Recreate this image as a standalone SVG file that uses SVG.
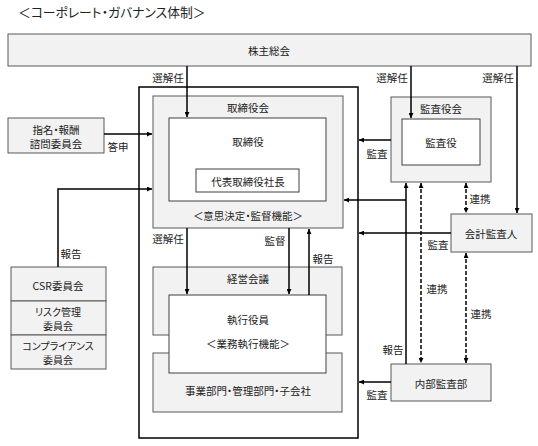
<svg xmlns="http://www.w3.org/2000/svg" width="538" height="446" viewBox="0 0 538 446">
<style>
text{font-family:"Noto Sans CJK JP","Noto Sans",sans-serif;font-size:10.5px;fill:#222;text-anchor:middle;dominant-baseline:central;font-feature-settings:"palt"}
.lab{text-anchor:start}
.sm{font-size:10px}
.g{fill:#f2f2f2;stroke:#595959;stroke-width:1}
.w{fill:#fff;stroke:#404040;stroke-width:1}
.ln{fill:none;stroke:#000;stroke-width:1.5}
.ds{fill:none;stroke:#000;stroke-width:1.5;stroke-dasharray:4 2}
</style>
<defs>
<marker id="ah" viewBox="0 0 8 8" refX="8" refY="4" markerWidth="5" markerHeight="5" orient="auto-start-reverse" markerUnits="userSpaceOnUse"><path d="M0,0L8,4L0,8z" fill="#000"/></marker>
</defs>
<rect width="538" height="446" fill="#fff"/>
<text x="18" y="11" class="lab" style="font-size:12.8px">＜コーポレート・ガバナンス体制＞</text>

<g id="outer"><rect x="139" y="87" width="219" height="351" fill="none" stroke="#000" stroke-width="1.5"/></g>

<g id="kabunushi"><rect class="g" x="8" y="34" width="523" height="32"/><text x="269" y="50">株主総会</text></g>

<g id="torishimariyakukai"><rect class="g" x="153" y="96" width="190" height="132"/><text x="248" y="107">取締役会</text>
<text x="248" y="215">＜意思決定・監督機能＞</text></g>
<g id="torishimariyaku"><rect class="w" x="169" y="118" width="157" height="83"/><text x="248" y="141">取締役</text></g>
<g id="daihyo"><rect class="w" x="196" y="169" width="103" height="23"/><text x="248" y="181">代表取締役社長</text></g>

<g id="shimei"><rect class="g" x="8" y="118" width="96" height="35"/><text x="56" y="129">指名・報酬</text><text x="56" y="143">諮問委員会</text></g>

<g id="csr"><rect class="g" x="11" y="267" width="95" height="34"/><text x="58" y="285">CSR委員会</text></g>
<g id="risk"><rect class="g" x="11" y="301" width="95" height="34"/><text class="sm" x="58" y="311">リスク管理</text><text class="sm" x="58" y="325">委員会</text></g>
<g id="compliance"><rect class="g" x="11" y="335" width="95" height="34"/><text class="sm" x="58" y="345">コンプライアンス</text><text class="sm" x="58" y="359">委員会</text></g>

<g id="keieikaigi"><rect class="g" x="153" y="267" width="189" height="68"/><text x="248" y="278">経営会議</text></g>
<g id="jigyo"><rect class="g" x="153" y="353" width="189" height="59"/><text x="248" y="390">事業部門・管理部門・子会社</text></g>
<g id="shikko"><rect class="w" x="169" y="295" width="157" height="78"/><text x="248" y="319">執行役員</text><text x="248" y="343">＜業務執行機能＞</text></g>

<g id="kansayakukai"><rect class="g" x="391" y="97" width="100" height="85"/><text x="441" y="108">監査役会</text></g>
<g id="kansayaku"><rect class="w" x="402" y="119" width="78" height="46"/><text x="441" y="142">監査役</text></g>
<g id="kaikei"><rect class="g" x="451" y="214" width="81" height="38"/><text x="491" y="233">会計監査人</text></g>
<g id="naibu"><rect class="g" x="391" y="364" width="100" height="37"/><text x="441" y="383">内部監査部</text></g>

<g id="connectors">
<path class="ln" d="M187,66V117" marker-end="url(#ah)"/>
<path class="ln" d="M411,66V118" marker-end="url(#ah)"/>
<path class="ln" d="M517,66V213" marker-end="url(#ah)"/>
<path class="ln" d="M104,134H152" marker-end="url(#ah)"/>
<path class="ln" d="M58,267V189H152" marker-end="url(#ah)"/>
<path class="ln" d="M187,228V294" marker-end="url(#ah)"/>
<path class="ln" d="M289,228V294" marker-end="url(#ah)"/>
<path class="ln" d="M309,295V229" marker-end="url(#ah)"/>
<path class="ln" d="M391,140H359" marker-end="url(#ah)"/>
<path class="ln" d="M451,233H359" marker-end="url(#ah)"/>
<path class="ln" d="M391,382H359" marker-end="url(#ah)"/>
<path class="ln" d="M406,364V183" marker-end="url(#ah)"/>
<path class="ln" d="M406,200H344" marker-end="url(#ah)"/>
<path class="ds" d="M421,183V363" marker-start="url(#ah)" marker-end="url(#ah)"/>
<path class="ds" d="M466,183V213" marker-start="url(#ah)" marker-end="url(#ah)"/>
<path class="ds" d="M466,253V363" marker-start="url(#ah)" marker-end="url(#ah)"/>
<text x="168" y="77">選解任</text>
<text x="392" y="77">選解任</text>
<text x="498" y="77">選解任</text>
<text x="118" y="146">答申</text>
<text x="71" y="253">報告</text>
<text x="168" y="238">選解任</text>
<text x="275" y="240">監督</text>
<text x="323" y="258">報告</text>
<text x="377" y="153">監査</text>
<text x="438" y="244">監査</text>
<text x="377" y="394">監査</text>
<text x="393" y="349">報告</text>
<text x="437" y="288">連携</text>
<text x="480" y="198">連携</text>
<text x="481" y="313">連携</text>
</g>
</svg>
